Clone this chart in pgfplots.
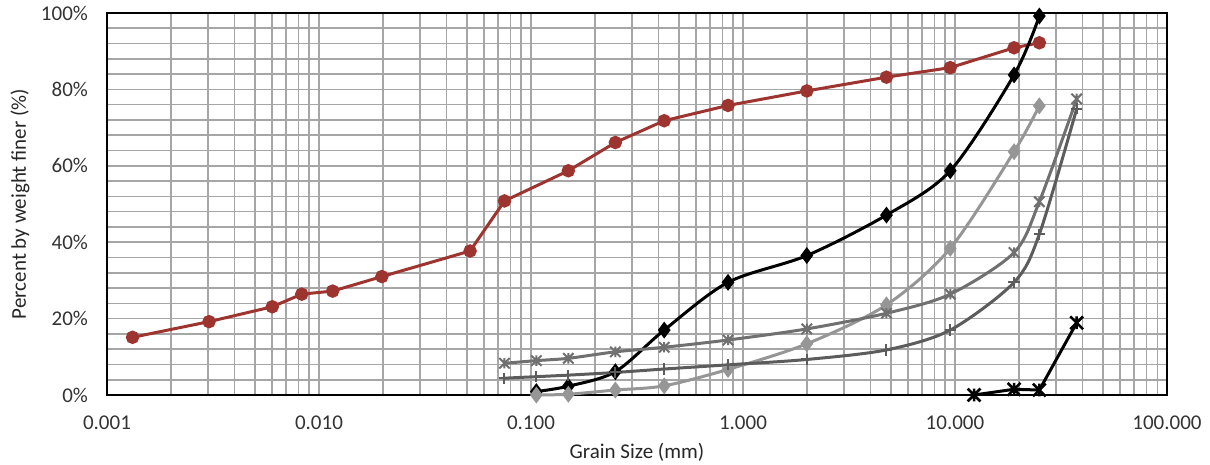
\documentclass[border=0pt]{standalone}
\usepackage{fontspec}
\setmainfont{Carlito}
\usepackage{pgfplots}
\pgfplotsset{compat=1.18}

\definecolor{soilred}{RGB}{158,52,48}
\definecolor{gridgray}{RGB}{166,166,166}
\definecolor{lightgr}{RGB}{150,150,150}
\definecolor{midgr}{RGB}{112,112,112}
\definecolor{darkgr}{RGB}{92,92,92}

% Excel style star: an x with a vertical bar through it
\pgfdeclareplotmark{xstar}{%
  \pgfpathmoveto{\pgfqpoint{-\pgfplotmarksize}{-\pgfplotmarksize}}%
  \pgfpathlineto{\pgfqpoint{\pgfplotmarksize}{\pgfplotmarksize}}%
  \pgfpathmoveto{\pgfqpoint{-\pgfplotmarksize}{\pgfplotmarksize}}%
  \pgfpathlineto{\pgfqpoint{\pgfplotmarksize}{-\pgfplotmarksize}}%
  \pgfpathmoveto{\pgfqpoint{0pt}{-\pgfplotmarksize}}%
  \pgfpathlineto{\pgfqpoint{0pt}{\pgfplotmarksize}}%
  \pgfusepathqstroke}

\begin{document}
\begin{tikzpicture}
\begin{axis}[
    scale only axis,
    width=530pt, height=191pt,
    xmode=log,
    xmin=0.001, xmax=100,
    ymin=0, ymax=100,
    xtick={0.001,0.01,0.1,1,10,100},
    xticklabels={0.001,0.010,0.100,1.000,10.000,100.000},
    ytick={0,20,40,60,80,100},
    yticklabels={0\%,20\%,40\%,60\%,80\%,100\%},
    minor y tick num=4,
    grid=both,
    major grid style={line width=0.8pt, gridgray},
    minor grid style={line width=0.8pt, gridgray},
    major tick length=0pt, minor tick length=0pt,
    axis line style={line width=1pt, black},
    tick label style={font=\fontsize{10.5}{12}\selectfont, text=black!80},
    xticklabel style={yshift=-7pt},
    yticklabel style={xshift=-6pt},
    /pgf/number format/assume math mode=true,
    xlabel={Grain Size (mm)},
    ylabel={Percent by weight finer (\%)},
    label style={font=\fontsize{10.5}{12}\selectfont, text=black!85},
    xlabel style={at={(axis description cs:0.5,-0.149)}, anchor=center},
    ylabel style={at={(axis description cs:-0.082,0.5)}, anchor=center},
    clip=false,
]
% fine grained soil (hydrometer + sieve)
\addplot[soilred, line width=1.5pt, mark=*, mark size=2.6pt] coordinates {
  (0.00132,15.1) (0.00303,19.2) (0.00602,23.1) (0.00829,26.4) (0.0116,27.2)
  (0.0198,31.0) (0.0516,37.7) (0.075,50.8) (0.15,58.7) (0.25,66.1)
  (0.425,71.8) (0.85,75.8) (2.0,79.6) (4.75,83.2) (9.5,85.7) (19,90.9) (25,92.2)
};
\addplot[black, line width=1.5pt, smooth, mark=diamond*, mark size=3pt] coordinates {
  (0.106,0.9) (0.15,2.3) (0.25,6.1) (0.425,17.0) (0.85,29.5) (2.0,36.5)
  (4.75,47.1) (9.5,58.7) (19,83.8) (25,99.2)
};
\addplot[lightgr, line width=1.5pt, smooth, mark=diamond*, mark size=3pt] coordinates {
  (0.106,0) (0.15,0.2) (0.25,1.3) (0.425,2.4) (0.85,6.7) (2.0,13.4)
  (4.75,23.6) (9.5,38.4) (19,63.7) (25,75.7)
};
\addplot[midgr, line width=1.5pt, smooth, mark=xstar, mark size=2.6pt,
  mark options={line width=1pt}] coordinates {
  (0.075,8.3) (0.106,9.0) (0.15,9.6) (0.25,11.3) (0.425,12.5) (0.85,14.4)
  (2.0,17.3) (4.75,21.4) (9.5,26.4) (19,37.3) (25,50.6) (37.5,77.5)
};
\addplot[darkgr, line width=1.5pt, smooth, mark=+, mark size=2.8pt,
  mark options={line width=1pt}] coordinates {
  (0.075,4.4) (0.106,4.8) (0.15,5.2) (0.25,5.9) (0.425,6.8) (0.85,7.9)
  (2.0,9.3) (4.75,11.8) (9.5,17.0) (19,29.5) (25,42.1) (37.5,74.9)
};
\addplot[black, line width=1.5pt, mark=xstar, mark size=3.2pt,
  mark options={line width=1.3pt}] coordinates {
  (12.3,0) (19,1.5) (25,1.3) (37.5,18.9)
};
\end{axis}
\pgfresetboundingbox
\path (-53.5pt,-35pt) rectangle (551.5pt,197.5pt);
\end{tikzpicture}
\end{document}
